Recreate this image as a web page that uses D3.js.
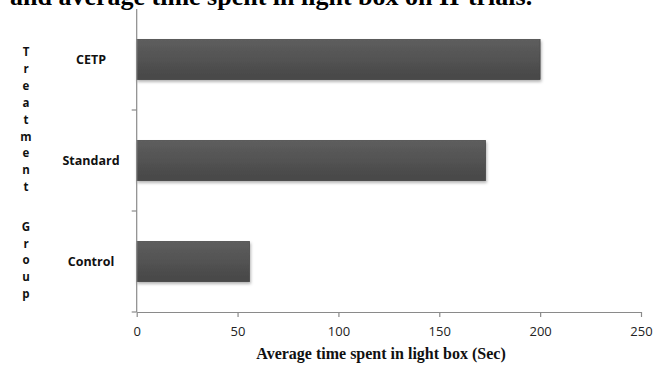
<!DOCTYPE html>
<html><head><meta charset="utf-8">
<script src="https://cdn.jsdelivr.net/npm/d3@7"></script>
<style>body{margin:0;background:#fff}svg{display:block}</style>
</head><body>
<svg id="c" width="661" height="374"></svg>
<script>
const categories = ["CETP", "Standard", "Control"];
const values = [200, 173, 56];
const xTicks = [0, 50, 100, 150, 200, 250];
const titleText = "and average time spent in light box on II-trials.";
const xTitle = "Average time spent in light box (Sec)";
const yTitle = "Treatment Group";

const svg = d3.select("#c");
const m = {left: 136.7, right: 641, top: 9, bottom: 312};
const x = d3.scaleLinear().domain([0, 250]).range([m.left, m.right]);
const y = d3.scaleBand().domain(categories).range([m.top, m.bottom]).paddingInner(0.6).paddingOuter(0.3);

const defs = svg.append("defs");
const g = defs.append("linearGradient").attr("id","bg").attr("x1",0).attr("y1",0).attr("x2",0).attr("y2",1);
g.append("stop").attr("offset","0%").attr("stop-color","#5e5e5e");
g.append("stop").attr("offset","100%").attr("stop-color","#474747");
const f = defs.append("filter").attr("id","sh").attr("x","-5%").attr("y","-20%").attr("width","110%").attr("height","150%");
f.append("feDropShadow").attr("dx",1).attr("dy",2).attr("stdDeviation",1.5).attr("flood-color","#000").attr("flood-opacity",0.3);

// title (cut off at top, as in the reference)
svg.append("text").attr("x", 10).attr("y", 4.5)
  .attr("font-family", "Liberation Serif, Times New Roman, serif")
  .attr("font-weight", "bold").attr("font-size", 26).attr("fill", "#000")
  .text(titleText);

// bars
svg.append("g").selectAll("rect").data(categories).join("rect")
  .attr("x", x(0)).attr("y", d => y(d))
  .attr("width", (d,i) => x(values[i]) - x(0))
  .attr("height", y.bandwidth())
  .attr("fill", "url(#bg)").attr("stroke", "#3c3c3c").attr("stroke-width", 0.6)
  .attr("filter", "url(#sh)");

// x axis
const xa = svg.append("g").attr("transform", `translate(0,${m.bottom})`)
  .call(d3.axisBottom(x).tickValues(xTicks).tickSize(5).tickSizeOuter(0).tickPadding(10));
xa.select(".domain").attr("stroke", "#8a8a8a").attr("stroke-width", 1.2);
xa.selectAll(".tick line").attr("stroke", "#8a8a8a").attr("stroke-width", 1.2);
xa.selectAll(".tick text").attr("font-family", "Open Sans, sans-serif").attr("font-size", 13).attr("fill", "#222");

// y axis (boundary ticks)
const bounds = categories.map(c => y(c) - y.step()*y.paddingInner()/2).concat([m.bottom]);
svg.append("line").attr("x1", m.left).attr("x2", m.left).attr("y1", m.top).attr("y2", m.bottom)
  .attr("stroke", "#8a8a8a").attr("stroke-width", 1.2);
svg.append("g").selectAll("line").data(bounds.slice(1)).join("line")
  .attr("x1", m.left - 5).attr("x2", m.left).attr("y1", d => d).attr("y2", d => d)
  .attr("stroke", "#8a8a8a").attr("stroke-width", 1.2);

// category labels
svg.append("g").selectAll("text").data(categories).join("text")
  .attr("x", 91).attr("y", d => y(d) + y.bandwidth()/2)
  .attr("dy", "0.35em").attr("text-anchor", "middle")
  .attr("font-family", "Open Sans, sans-serif").attr("font-weight", "bold").attr("font-size", 12.5)
  .attr("fill", "#111").text(d => d);

// x title
svg.append("text").attr("x", 381).attr("y", 359).attr("text-anchor", "middle")
  .attr("font-family", "Liberation Serif, Times New Roman, serif")
  .attr("font-weight", "bold").attr("font-size", 16).attr("fill", "#111").text(xTitle);

// y title stacked letters
const yt = svg.append("text").attr("font-family", "Open Sans, sans-serif")
  .attr("font-weight", "bold").attr("font-size", 11.5).attr("fill", "#111").attr("text-anchor", "middle");
let yy = 56;
yTitle.split("").forEach((ch, i) => {
  if (ch === " ") { yy += 22.5; return; }
  yt.append("tspan").attr("x", 26).attr("y", yy).text(ch);
  yy += 16.9;
});
</script>
</body></html>
